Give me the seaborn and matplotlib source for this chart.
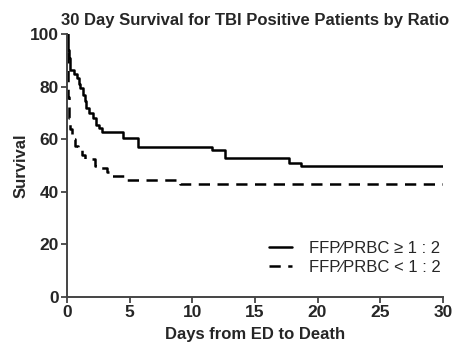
import matplotlib
matplotlib.use("Agg")
import matplotlib.pyplot as plt
import pandas as pd
import seaborn as sns

# Kaplan-Meier style step data
high_days = [0, 0.05, 0.1, 0.15, 0.24, 0.56, 0.77, 0.95, 1.04, 1.3, 1.45, 1.52, 1.78,
             2.05, 2.3, 2.58, 2.77, 4.5, 5.7, 11.6, 12.6, 17.7, 18.65, 30]
high_surv = [100, 97, 94, 91, 86.5, 85, 83.3, 81, 79.5, 77, 74.5, 72, 70,
             68, 65.5, 64.3, 63, 60.5, 57.2, 55.8, 52.8, 51.2, 49.8, 49.8]

low_days = [0, 0.03, 0.06, 0.1, 0.15, 0.2, 0.4, 0.65, 0.9, 1.2, 1.4, 2.2, 2.6,
            3.2, 3.5, 4.8, 9.0, 30]
low_surv = [100, 93, 85, 76, 68, 64, 60, 57.5, 56, 54, 52.5, 50, 49,
            47.5, 46, 44.5, 43, 43]

labels = ["FFP\u2215PRBC \u2265 1 : 2", "FFP\u2215PRBC < 1 : 2"]
x_ticks = [0, 5, 10, 15, 20, 25, 30]
y_ticks = [0, 20, 40, 60, 80, 100]


def main():
    sns.set_style("ticks")
    plt.rcParams["font.family"] = ["Liberation Sans", "DejaVu Sans"]

    df_high = pd.DataFrame({"days": high_days, "survival": high_surv})
    df_low = pd.DataFrame({"days": low_days, "survival": low_surv})

    fig = plt.figure(figsize=(4.57, 3.48), dpi=100)
    ax = fig.add_axes([0.1466, 0.1466, 0.969 - 0.1466, 0.901 - 0.1466])

    sns.lineplot(data=df_high, x="days", y="survival", ax=ax, color="black",
                 linewidth=1.8, drawstyle="steps-post", label=labels[0])
    sns.lineplot(data=df_low, x="days", y="survival", ax=ax, color="black",
                 linewidth=1.8, drawstyle="steps-post", label=labels[1])
    ax.lines[1].set_dashes([4.5, 3])

    ax.set_xlim(0, 30)
    ax.set_ylim(0, 100)
    ax.set_xticks(x_ticks)
    ax.set_yticks(y_ticks)
    ax.set_xticklabels([str(t) for t in x_ticks], fontsize=12.5, fontweight="bold")
    ax.set_yticklabels([str(t) for t in y_ticks], fontsize=12.5, fontweight="bold")
    ax.tick_params(direction="out", length=4, width=1.3, color="#444444", pad=2)
    for side in ["left", "bottom"]:
        ax.spines[side].set_linewidth(1.4)
        ax.spines[side].set_color("#444444")
    sns.despine(ax=ax)

    ax.set_xlabel("Days from ED to Death", fontsize=12, fontweight="bold", labelpad=5)
    ax.set_ylabel("Survival", fontsize=12, fontweight="bold", labelpad=1)
    ax.set_title("30 Day Survival for TBI Positive Patients by Ratio",
                 fontsize=12, fontweight="bold", pad=7)

    ax.legend(loc="lower right", frameon=False, fontsize=12, handlelength=1.4,
              handletextpad=1.0, labelspacing=0.2, borderaxespad=0,
              bbox_to_anchor=(1.012, 0.06))
    ax.get_legend().get_lines()[1].set_dashes([4.5, 3])

    fig.savefig("out.png", dpi=100)
    plt.close(fig)


if __name__ == "__main__":
    main()
